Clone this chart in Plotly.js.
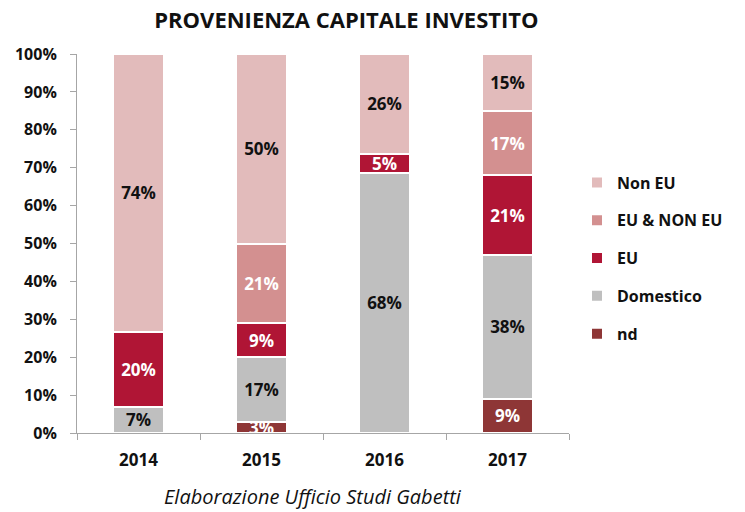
<!DOCTYPE html>
<html><head><meta charset="utf-8">
<script src="https://cdn.plot.ly/plotly-3.0.1.min.js"></script>
<style>html,body{margin:0;padding:0;background:#fff}</style>
</head><body>
<div id="chart" style="width:745px;height:512px"></div>
<script>
const years = ['2014', '2015', '2016', '2017'];
const nd = [0, 3, 0, 9];
const domestico = [7, 17, 68, 38];
const eu = [20, 9, 5, 21];
const euNonEu = [0, 21, 0, 17];
const nonEu = [74, 50, 26, 15];
const yTicks = [0, 10, 20, 30, 40, 50, 60, 70, 80, 90, 100];

const series = [
  {name: 'nd', y: nd, color: '#8E3636', txt: '#ffffff'},
  {name: 'Domestico', y: domestico, color: '#BFBFBF', txt: '#111111'},
  {name: 'EU', y: eu, color: '#B01535', txt: '#ffffff'},
  {name: 'EU & NON EU', y: euNonEu, color: '#D39090', txt: '#ffffff'},
  {name: 'Non EU', y: nonEu, color: '#E2BBBB', txt: '#111111'}
];
const FONT = 'Open Sans, sans-serif';
const traces = series.map((s, i) => ({
  type: 'bar', name: s.name, x: years,
  y: s.y.map(v => v > 0 ? v : null),
  text: s.y.map(v => v > 0 ? v + '%' : ''),
  textposition: 'inside', insidetextanchor: 'middle',
  textfont: {family: FONT, size: 17, color: s.txt, weight: 'bold'},
  marker: {color: s.color, line: {color: '#ffffff', width: 2}},
  legendgroup: 'g' + i, legendrank: series.length - i,
  hoverinfo: 'skip'
}));

const layout = {
  barmode: 'stack', barnorm: 'percent', bargap: 0.59,
  width: 745, height: 512,
  margin: {l: 77, r: 176, t: 54, b: 79},
  paper_bgcolor: '#fff', plot_bgcolor: '#fff',
  font: {family: FONT, color: '#111'},
  uniformtext: {mode: 'show', minsize: 17},
  title: {text: '<b>PROVENIENZA CAPITALE INVESTITO</b>', x: 0.465, xanchor: 'center', y: 0.96, yanchor: 'middle',
          font: {family: FONT, size: 22, color: '#111'}},
  xaxis: {type: 'category', showline: true, linecolor: '#A6A6A6', linewidth: 1,
          ticks: 'outside', tickson: 'boundaries', ticklen: 6, tickcolor: '#A6A6A6', ticklabelstandoff: 12,
          tickfont: {family: FONT, size: 17, color: '#111', weight: 'bold'}, showgrid: false},
  yaxis: {range: [0, 100], tickvals: yTicks, ticktext: yTicks.map(v => v + '%'),
          showline: true, linecolor: '#A6A6A6', linewidth: 1, ticks: 'outside', ticklen: 6, tickcolor: '#A6A6A6',
          ticklabelstandoff: 10, showgrid: false, zeroline: false,
          tickfont: {family: FONT, size: 16, color: '#111', weight: 'bold'}},
  legend: {xref: 'container', yref: 'container', x: 0.7745, xanchor: 'left', y: 0.496, yanchor: 'middle',
           traceorder: 'grouped', tracegroupgap: 14,
           font: {family: FONT, size: 16, color: '#111', weight: 'bold'}, itemwidth: 30},
  annotations: [{text: '<i>Elaborazione Ufficio Studi Gabetti</i>', xref: 'paper', yref: 'paper',
                 x: 0.48, y: -0.168, xanchor: 'center', yanchor: 'middle', showarrow: false,
                 font: {family: FONT, size: 20, color: '#111'}}]
};
Plotly.newPlot('chart', traces, layout, {displayModeBar: false, staticPlot: true});
</script>
</body></html>
